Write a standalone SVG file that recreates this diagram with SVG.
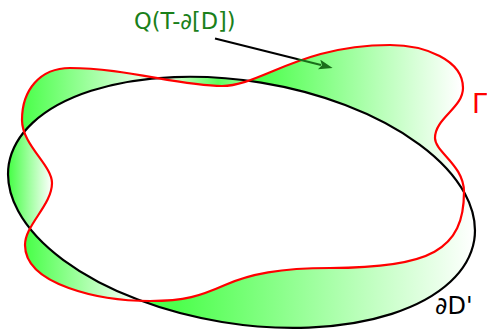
<svg xmlns="http://www.w3.org/2000/svg" width="487" height="329" viewBox="0 0 487 329">
<style>
.lbl{font-family:"DejaVu Sans","Liberation Sans",sans-serif;}
.curve{fill:none;stroke-width:2.2;stroke-linejoin:round;}
</style>
<defs>
<path id="ell" d="M 8.8 164.2 A 235.8 121.7 9.3 0 1 474.2 240.4 A 235.8 121.7 9.3 0 1 8.8 164.2 Z"/>
<path id="gam" d="M 22 120 C 22 90 40 68 70 68 C 125 68 180 86 222 86 C 260 86 300 45 390 45 C 425 45 463 60 463 88 C 463 108 435 118 435 138 C 435 152 464 165 464 192 C 464 250 430 268 330 268 C 280 268 250 274 225 285 C 200 296 185 301 150 301 C 100 301 25 285 25 245 C 25 225 52 205 52 183 C 52 165 22 145 22 120 Z"/>
<clipPath id="xor">
<path clip-rule="evenodd" d="M 8.8 164.2 A 235.8 121.7 9.3 0 1 474.2 240.4 A 235.8 121.7 9.3 0 1 8.8 164.2 Z M 22 120 C 22 90 40 68 70 68 C 125 68 180 86 222 86 C 260 86 300 45 390 45 C 425 45 463 60 463 88 C 463 108 435 118 435 138 C 435 152 464 165 464 192 C 464 250 430 268 330 268 C 280 268 250 274 225 285 C 200 296 185 301 150 301 C 100 301 25 285 25 245 C 25 225 52 205 52 183 C 52 165 22 145 22 120 Z"/>
</clipPath>
<linearGradient id="g1" gradientUnits="userSpaceOnUse" x1="24" y1="0" x2="165" y2="0"><stop offset="0" stop-color="#4cff4c"/><stop offset="1" stop-color="#ffffff"/></linearGradient>
<linearGradient id="g2" gradientUnits="userSpaceOnUse" x1="167" y1="0" x2="252" y2="0"><stop offset="0" stop-color="#e0ffe0"/><stop offset="0.6" stop-color="#5cff5c"/><stop offset="1" stop-color="#a8ffa8"/></linearGradient>
<linearGradient id="g3" gradientUnits="userSpaceOnUse" x1="258" y1="0" x2="460" y2="0"><stop offset="0" stop-color="#4cff4c"/><stop offset="1" stop-color="#ffffff"/></linearGradient>
<linearGradient id="g4" gradientUnits="userSpaceOnUse" x1="175" y1="0" x2="475" y2="0"><stop offset="0" stop-color="#4cff4c"/><stop offset="1" stop-color="#ffffff"/></linearGradient>
<linearGradient id="g5" gradientUnits="userSpaceOnUse" x1="28" y1="0" x2="138" y2="0"><stop offset="0" stop-color="#4cff4c"/><stop offset="1" stop-color="#ffffff"/></linearGradient>
<linearGradient id="g6" gradientUnits="userSpaceOnUse" x1="10" y1="0" x2="52" y2="0"><stop offset="0" stop-color="#4cff4c"/><stop offset="1" stop-color="#ffffff"/></linearGradient>
<linearGradient id="ga" gradientUnits="userSpaceOnUse" x1="215" y1="38.5" x2="333" y2="68"><stop offset="0" stop-color="#000000"/><stop offset="0.69" stop-color="#000000"/><stop offset="0.72" stop-color="#1a6e1a"/><stop offset="1" stop-color="#1a6e1a"/></linearGradient>
<marker id="ah" markerUnits="userSpaceOnUse" markerWidth="14" markerHeight="10" refX="2" refY="5" orient="auto">
<path d="M 0 0 L 14 5 L 0 10 L 3 5 Z" fill="#1a6e1a"/>
</marker>
</defs>
<rect width="487" height="329" fill="#ffffff"/>
<g id="regions" clip-path="url(#xor)">
<rect x="0" y="0" width="167" height="132" fill="url(#g1)"/>
<rect x="167" y="0" width="85" height="132" fill="url(#g2)"/>
<rect x="252" y="0" width="235" height="192" fill="url(#g3)"/>
<rect x="139" y="192" width="348" height="137" fill="url(#g4)"/>
<rect x="0" y="230" width="139" height="99" fill="url(#g5)"/>
<rect x="0" y="132" width="70" height="98" fill="url(#g6)"/>
</g>
<g id="boundary-D">
<use href="#ell" class="curve" stroke="#000000"/>
</g>
<g id="gamma">
<use href="#gam" class="curve" stroke="#ff0000"/>
</g>
<g id="connectors">
<path d="M 215 38.5 L 321 65" fill="none" stroke="url(#ga)" stroke-width="2" marker-end="url(#ah)"/>
</g>
<g id="label-Q">
<text class="lbl" x="134" y="28.5" font-size="22.5" fill="#1a801a">Q(T-∂[D])</text>
</g>
<g id="label-gamma">
<text class="lbl" x="472" y="113" font-size="27" fill="#ff0000">Γ</text>
</g>
<g id="label-dD">
<text class="lbl" x="435" y="313.5" font-size="24" fill="#000000">∂D'</text>
</g>
</svg>
